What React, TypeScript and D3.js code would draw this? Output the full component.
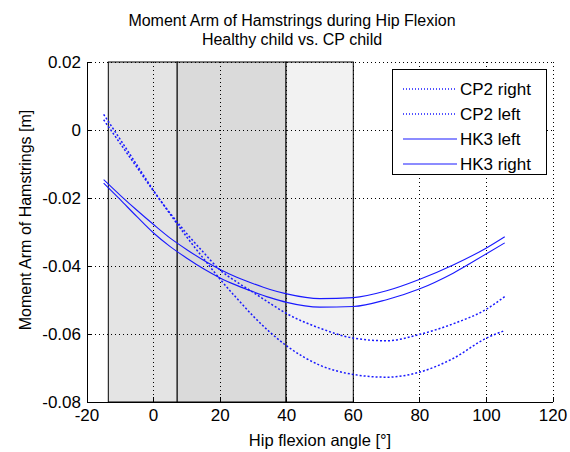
import React from "react";
import * as d3 from "d3";

const W = 570, H = 452;
const M = { left: 87, right: 553, top: 62, bottom: 402 };

const titleLines = ["Moment Arm of Hamstrings during Hip Flexion", "Healthy child vs. CP child"];
const xLabel = "Hip flexion angle [°]";
const yLabel = "Moment Arm of Hamstrings [m]";

const xTicks = [-20, 0, 20, 40, 60, 80, 100, 120];
const yTicks = [0.02, 0, -0.02, -0.04, -0.06, -0.08];

const angles = [-15, -10, -5, 0, 5, 10, 15, 20, 25, 30, 35, 40, 50, 60, 70, 80, 90, 100, 105.5];

const cp2Right = [0.003, -0.004, -0.011, -0.018, -0.0245, -0.0305, -0.036, -0.0412, -0.0447, -0.0478, -0.051, -0.054, -0.0583, -0.0612, -0.062, -0.0601, -0.057, -0.0527, -0.049];
const cp2Left = [0.0046, -0.0028, -0.0103, -0.0178, -0.0248, -0.0315, -0.0378, -0.0439, -0.0495, -0.0548, -0.0595, -0.0635, -0.0692, -0.0719, -0.0727, -0.0712, -0.0672, -0.0612, -0.059];
const hk3Left = [-0.0146, -0.0192, -0.0236, -0.0278, -0.0318, -0.0352, -0.0383, -0.041, -0.0433, -0.0452, -0.0469, -0.0482, -0.0496, -0.0493, -0.0473, -0.0439, -0.0397, -0.0347, -0.0314];
const hk3Right = [-0.0156, -0.0205, -0.0255, -0.0303, -0.0343, -0.0377, -0.0408, -0.0435, -0.0457, -0.0476, -0.0493, -0.0507, -0.0521, -0.0519, -0.0499, -0.0467, -0.0421, -0.0364, -0.0332];

const seriesNames = ["CP2 right", "CP2 left", "HK3 left", "HK3 right"];
const seriesValues = [cp2Right, cp2Left, hk3Left, hk3Right];
const seriesDotted = [true, true, false, false];

// phase regions (hip angle bounds) and grey levels
const regionBounds = [-13.6, 7.1, 39.8, 60];
const regionFills = ["#e4e4e4", "#dadada", "#f2f2f2"];

const FONT = "'Liberation Sans', Arial, sans-serif";
const BLUE = "#1a1aff";

export default function App() {
  const x = d3.scaleLinear().domain([-20, 120]).range([M.left, M.right]);
  const y = d3.scaleLinear().domain([-0.08, 0.02]).range([M.bottom, M.top]);
  const line = d3
    .line<[number, number]>()
    .x((d) => x(d[0]))
    .y((d) => y(d[1]))
    .curve(d3.curveMonotoneX);

  const fmtY = (v: number) => (v === 0 ? "0" : d3.format(".2f")(v).replace("−", "-"));

  return (
    <svg width={W} height={H} style={{ position: "absolute", left: 0, top: 0, background: "#fff" }} fontFamily={FONT}>
      <rect x={0} y={0} width={W} height={H} fill="#fff" />
      {/* shaded regions */}
      {regionFills.map((f, i) => (
        <rect
          key={"r" + i}
          x={x(regionBounds[i])}
          y={y(0.02)}
          width={x(regionBounds[i + 1]) - x(regionBounds[i])}
          height={y(-0.08) - y(0.02)}
          fill={f}
          stroke="#000"
          strokeWidth={1}
        />
      ))}
      {/* grid */}
      {xTicks.slice(1).map((t) => (
        <line key={"gx" + t} x1={x(t)} x2={x(t)} y1={M.top} y2={M.bottom} stroke="#000" strokeWidth={1} strokeDasharray="1 3" shapeRendering="crispEdges" />
      ))}
      {yTicks.slice(0, -1).map((t) => (
        <line key={"gy" + t} x1={M.left} x2={M.right} y1={y(t)} y2={y(t)} stroke="#000" strokeWidth={1} strokeDasharray="1 3" shapeRendering="crispEdges" />
      ))}
      {/* data lines */}
      {seriesValues.map((vals, i) => (
        <path
          key={"s" + i}
          d={line(angles.map((a, j) => [a, vals[j]] as [number, number])) || ""}
          fill="none"
          stroke={BLUE}
          strokeWidth={seriesDotted[i] ? 1.5 : 1.1}
          strokeDasharray={seriesDotted[i] ? "2 2" : undefined}
        />
      ))}
      {/* axes */}
      <line x1={M.left} x2={M.left} y1={M.top} y2={M.bottom} stroke="#000" shapeRendering="crispEdges" />
      <line x1={M.left} x2={M.right} y1={M.bottom} y2={M.bottom} stroke="#000" shapeRendering="crispEdges" />
      {xTicks.map((t) => (
        <g key={"xt" + t}>
          <line x1={x(t)} x2={x(t)} y1={M.bottom} y2={M.bottom - 5} stroke="#000" shapeRendering="crispEdges" />
          <text x={x(t)} y={421} textAnchor="middle" fontSize={17} fill="#000">
            {t}
          </text>
        </g>
      ))}
      {yTicks.map((t) => (
        <g key={"yt" + t}>
          <line x1={M.left} x2={M.left + 5} y1={y(t)} y2={y(t)} stroke="#000" shapeRendering="crispEdges" />
          <text x={81} y={y(t) + 6} textAnchor="end" fontSize={17} fill="#000">
            {fmtY(t)}
          </text>
        </g>
      ))}
      {/* labels */}
      <text x={320} y={446} textAnchor="middle" fontSize={16.5} fill="#000">
        {xLabel}
      </text>
      <text transform={`translate(31,220) rotate(-90)`} textAnchor="middle" fontSize={16} fill="#000">
        {yLabel}
      </text>
      {titleLines.map((s, i) => (
        <text key={"t" + i} x={292} y={26 + i * 18.5} textAnchor="middle" fontSize={16} fill="#000">
          {s}
        </text>
      ))}
      {/* legend */}
      <rect x={392.5} y={69.5} width={154} height={105} fill="#fff" stroke="#000" />
      {seriesNames.map((n, i) => {
        const ly = 89 + i * 25;
        return (
          <g key={"l" + i}>
            <line x1={403} x2={457} y1={ly} y2={ly} stroke={BLUE} strokeWidth={seriesDotted[i] ? 1.5 : 1.1} strokeDasharray={seriesDotted[i] ? "1 2" : undefined} />
            <text x={460} y={ly + 6} fontSize={17} fill="#000">
              {n}
            </text>
          </g>
        );
      })}
    </svg>
  );
}
